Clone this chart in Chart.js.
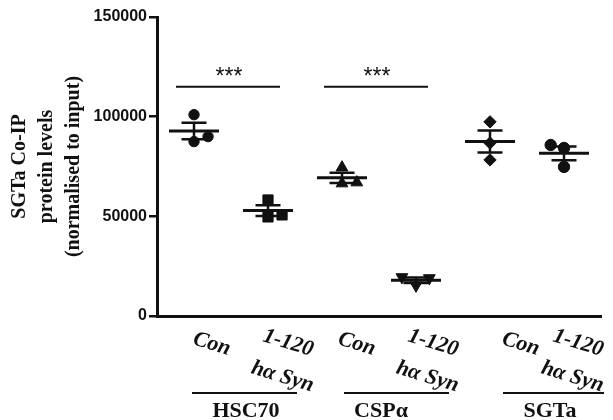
<!DOCTYPE html>
<html>
<head>
<meta charset="utf-8">
<script src="https://cdn.jsdelivr.net/npm/chart.js@4"></script>
<style>
html,body{margin:0;padding:0;background:#fff}
</style>
</head>
<body>
<canvas id="chart" width="613" height="420"></canvas>
<script>

// values (three replicates per condition)
const groupNames = ["HSC70", "CSPα", "SGTa"]
const conditionLabels = [["Con"], ["1-120", "hα Syn"], ["Con"], ["1-120", "hα Syn"], ["Con"], ["1-120", "hα Syn"]]

const hsc70Con = [101000, 87500, 90000]
const hsc70Syn = [58200, 49700, 50700]
const cspCon = [74500, 66500, 67000]
const cspSyn = [19500, 19000, 15300]
const sgtaCon = [97400, 86800, 78300]
const sgtaSyn = [85800, 84300, 74800]

const yTicks = [0, 50000, 100000, 150000]
const sigPairs = [[1, 2], [3, 4]]
const sigLevel = 115000

const series = [hsc70Con, hsc70Syn, cspCon, cspSyn, sgtaCon, sgtaSyn]

// style: horizontal scatter of replicates, marker shapes, label nudges
const jitter = [[0, 0, 0.19], [0, 0, 0.19], [0, 0, 0.2], [-0.19, 0.18, 0], [0, 0, 0], [-0.18, 0, 0]]
const shapes = ["circle", "rect", "triangle", "triangle", "rectRot", "circle"]
const rotations = [0, 0, 0, 180, 0, 0]
const radii = [5.2, 7.2, 6.8, 6.8, 6.2, 5.7]
const labelShift = [-2, -6, -5, -9, 11, -12]
const groupNudge = [[-2, 29, 15], [2, 33, 2], [13, 40, 23]]

const ink = "#111"

function mean(a){ return a.reduce((s, v) => s + v, 0) / a.length }
function sem(a){
 const m = mean(a)
 const sd = Math.sqrt(a.reduce((s, v) => s + (v - m) * (v - m), 0) / (a.length - 1))
 return sd / Math.sqrt(a.length)
}

const datasets = series.map((vals, i) => ({
 data: vals.map((v, j) => ({x: i + 1 + jitter[i][j], y: v})),
 pointStyle: shapes[i],
 pointRotation: rotations[i],
 pointRadius: radii[i],
 pointHoverRadius: radii[i],
 backgroundColor: ink,
 borderColor: ink,
 borderWidth: 1,
 showLine: false
}))

const meanSemPlugin = {
 id: "meanSem",
 afterDatasetsDraw(chart){
  const ctx = chart.ctx
  const x = chart.scales.x, y = chart.scales.y
  ctx.save()
  ctx.strokeStyle = ink
  series.forEach((vals, i) => {
   const px = x.getPixelForValue(i + 1)
   const m = mean(vals), e = sem(vals)
   const ym = y.getPixelForValue(m), yt = y.getPixelForValue(m + e), yb = y.getPixelForValue(m - e)
   ctx.lineWidth = 3
   ctx.beginPath(); ctx.moveTo(px - 25, ym); ctx.lineTo(px + 25, ym); ctx.stroke()
   ctx.lineWidth = 2.5
   ctx.beginPath()
   ctx.moveTo(px, yt); ctx.lineTo(px, yb)
   ctx.moveTo(px - 12.5, yt); ctx.lineTo(px + 12.5, yt)
   ctx.moveTo(px - 12.5, yb); ctx.lineTo(px + 12.5, yb)
   ctx.stroke()
  })
  ctx.restore()
 }
}

const sigPlugin = {
 id: "sig",
 afterDatasetsDraw(chart){
  const ctx = chart.ctx
  const x = chart.scales.x, y = chart.scales.y
  const py = y.getPixelForValue(sigLevel)
  ctx.save()
  ctx.strokeStyle = ink
  ctx.fillStyle = ink
  ctx.lineWidth = 2
  ctx.font = "23px 'Liberation Sans', Arial, sans-serif"
  ctx.textAlign = "center"
  ctx.textBaseline = "alphabetic"
  sigPairs.forEach(p => {
   const x1 = x.getPixelForValue(p[0]), x2 = x.getPixelForValue(p[1])
   const mid = (x1 + x2) / 2 - 3
   ctx.beginPath(); ctx.moveTo(mid - 52, py); ctx.lineTo(mid + 52, py); ctx.stroke()
   ctx.fillText("***", mid + 1, py - 2.5)
  })
  ctx.restore()
 }
}

const xLabelPlugin = {
 id: "xLabels",
 afterDraw(chart){
  const ctx = chart.ctx
  const x = chart.scales.x
  const base = chart.chartArea.bottom
  const angle = 17 * Math.PI / 180
  ctx.save()
  ctx.fillStyle = ink
  ctx.textAlign = "left"
  ctx.textBaseline = "alphabetic"
  ctx.font = "italic bold 22px 'Liberation Serif', 'Times New Roman', serif"
  conditionLabels.forEach((lines, i) => {
   const px = x.getPixelForValue(i + 1) + labelShift[i]
   ctx.save()
   ctx.translate(px, base + (lines.length > 1 ? 25 : 28))
   ctx.rotate(angle)
   lines.forEach((t, k) => ctx.fillText(t, k * -2, k * 34))
   ctx.restore()
  })
  ctx.font = "bold 22px 'Liberation Serif', 'Times New Roman', serif"
  ctx.textAlign = "center"
  ctx.strokeStyle = ink
  ctx.lineWidth = 2
  groupNames.forEach((g, i) => {
   const x1 = x.getPixelForValue(2 * i + 1), x2 = x.getPixelForValue(2 * i + 2)
   const n = groupNudge[i]
   ctx.beginPath(); ctx.moveTo(x1 + n[0], base + 77); ctx.lineTo(x2 + n[1], base + 77); ctx.stroke()
   ctx.fillText(g, (x1 + x2) / 2 + n[2], base + 101)
  })
  ctx.restore()
 }
}

new Chart(document.getElementById("chart"), {
 type: "scatter",
 data: {datasets: datasets},
 options: {
  responsive: false,
  animation: false,
  devicePixelRatio: 1,
  layout: {padding: {left: 0, right: 12, top: 17, bottom: 0}},
  plugins: {legend: {display: false}, tooltip: {enabled: false}},
  scales: {
   x: {
    type: "linear",
    min: 0.5,
    max: 6.5,
    ticks: {display: false},
    grid: {display: false},
    border: {color: ink, width: 3},
    afterFit(s){ s.height = 104 }
   },
   y: {
    min: 0,
    max: 150000,
    afterBuildTicks(s){ s.ticks = yTicks.map(v => ({value: v})) },
    ticks: {
     color: ink,
     padding: 2,
     font: {family: "'Liberation Sans', Arial, sans-serif", size: 16, weight: "bold"},
     callback: v => String(v)
    },
    grid: {drawOnChartArea: false, drawTicks: true, tickLength: 8, color: ink, lineWidth: 2.5},
    border: {color: ink, width: 3},
    title: {
     display: true,
     text: ["SGTa Co-IP", "protein levels", "(normalised to input)"],
     color: ink,
     font: {family: "'Liberation Serif', 'Times New Roman', serif", size: 20, weight: "bold", lineHeight: 1.35},
     padding: {top: 6, bottom: 0}
    },
    afterFit(s){ s.width = 157 }
   }
  }
 },
 plugins: [meanSemPlugin, sigPlugin, xLabelPlugin]
})
</script>
</body>
</html>
